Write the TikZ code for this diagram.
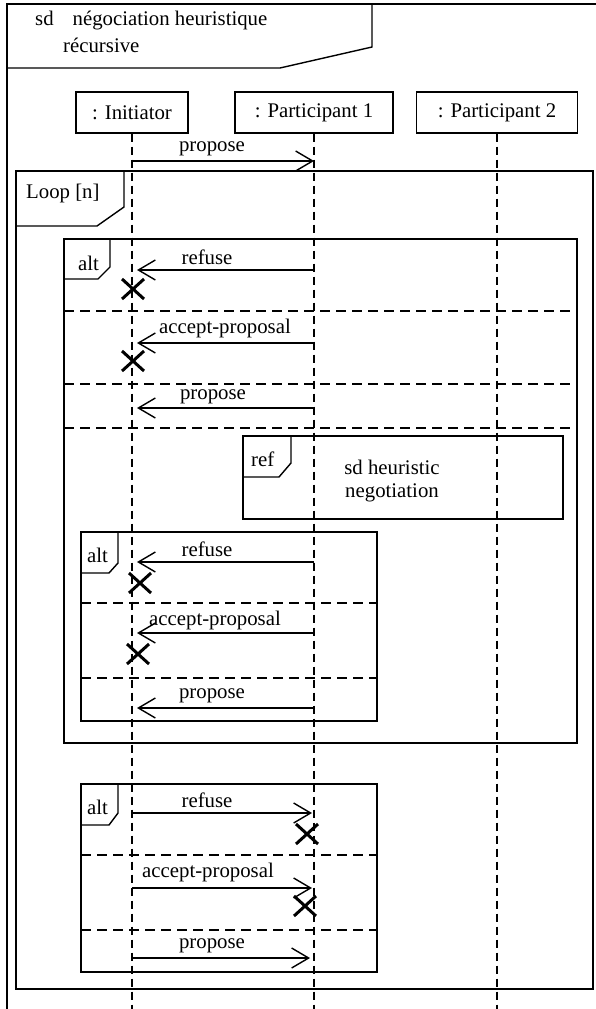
\documentclass[tikz,border=0pt]{standalone}
\usepackage{fontspec}
\setmainfont{Liberation Serif}
\usetikzlibrary{arrows.meta}
\usetikzlibrary{positioning}
\tikzset{
    actor/.style={
           rectangle,
           draw=black, line width=1.4pt,
           minimum height=41pt,
           inner sep=2pt,
           text centered,
           },
    lifeline/.style={line width=1.3pt, dash pattern=on 8pt off 5pt},
    frame/.style={line width=1.4pt},
    sep/.style={line width=1.3pt, dash pattern=on 10pt off 6pt},
    msg/.style={->, line width=1.4pt},
    back/.style={msg, shorten >=5pt},
    tag/.style={anchor=west, inner sep=0pt},
    xmark/.pic={\draw[line width=3pt] (-11,-10) -- (11,10) (-11,10) -- (11,-10);},
}

\begin{document}
\begin{tikzpicture}[x=1pt,y=-1pt,>={Straight Barb[length=17pt,width=20pt]},
    font=\fontsize{20.8}{23}\selectfont]

    \useasboundingbox (0,0) rectangle (595,1009);

    % outer diagram frame
    \draw[frame] (7,1012) -- (7,4) -- (600,4);
    \draw[frame] (7,68) -- (280,68) -- (372,47) -- (372,4);
    \node[tag] (title) at (35,21) {sd\hspace{19pt}négociation heuristique};
    \node[tag] (title2) at (63,45) {récursive};

    % lifelines
    \node[actor,minimum width=112pt] at (132,112.5)
        (I) {: Initiator};
    \node[actor,minimum width=158pt,right of=I,node distance=182pt]
        (P1) {: Participant 1};
    \node[actor,minimum width=161pt,right of=P1,node distance=183pt]
        (P2) {: Participant 2};

    \draw[lifeline] (I) -- (I |- 0,1012);
    \draw[lifeline] (P1) -- (P1 |- 0,1012);
    \draw[lifeline] (P2) -- (P2 |- 0,1012);

    \draw[msg] (I |- 0,161) -- (P1 |- 0,161);
    \node (m0) at (212,149) {propose};

    % loop
    \draw[frame] (16,171) rectangle (593,989);
    \draw[frame] (16,226) -- (97,226) -- (124,207) -- (124,171);
    \node[tag] (loop) at (26,193) {Loop [n]};

    % first alt
    \draw[frame] (64,239) rectangle (577,743);
    \draw[frame] (64,279) -- (98,279) -- (110,267) -- (110,239);
    \node[tag] (alt1) at (78,263) {alt};
    \draw[back] (P1 |- 0,270) -- (I |- 0,270);
    \node (m1) at (207,257) {refuse};
    \pic at (133,289) {xmark};
    \draw[sep] (64,311) -- (577,311);
    \draw[back] (P1 |- 0,343) -- (I |- 0,343);
    \node (m2) at (225,328) {accept-proposal};
    \pic at (133,361) {xmark};
    \draw[sep] (64,384) -- (577,384);
    \draw[back] (P1 |- 0,408) -- (I |- 0,408);
    \node (m3) at (213,397) {propose};
    \draw[sep] (64,428) -- (577,428);

    % ref
    \draw[frame] (243,436) rectangle (563,519);
    \draw[frame] (243,477) -- (279,477) -- (291,463) -- (291,436);
    \node[tag] (ref) at (251,459) {ref};
    \node[align=center] (refbody) at (392,481) {sd heuristic\\ negotiation};

    % nested alt
    \draw[frame] (81,532) rectangle (377,721);
    \draw[frame] (81,573) -- (109,573) -- (118,563) -- (118,532);
    \node[tag] (alt2) at (87,555) {alt};
    \draw[back] (P1 |- 0,562) -- (I |- 0,562);
    \node (m4) at (207,549) {refuse};
    \pic at (140,583) {xmark};
    \draw[sep] (81,603) -- (377,603);
    \draw[back] (P1 |- 0,633) -- (I |- 0,633);
    \node (m5) at (215,620) {accept-proposal};
    \pic at (138,654) {xmark};
    \draw[sep] (81,678) -- (377,678);
    \draw[back] (P1 |- 0,708) -- (I |- 0,708);
    \node (m6) at (212,696) {propose};

    % last alt
    \draw[frame] (81,784) rectangle (377,972);
    \draw[frame] (81,825) -- (109,825) -- (118,813) -- (118,784);
    \node[tag] (alt3) at (87,807) {alt};
    \draw[msg] (I |- 0,813) -- ([xshift=-2pt]P1 |- 0,813);
    \node (m7) at (207,800) {refuse};
    \pic at (307,834) {xmark};
    \draw[sep] (81,855) -- (377,855);
    \draw[msg] (I |- 0,888) -- ([xshift=-2pt]P1 |- 0,888);
    \node (m8) at (208,872) {accept-proposal};
    \pic at (305,906) {xmark};
    \draw[sep] (81,930) -- (377,930);
    \draw[msg] (I |- 0,958) -- ([xshift=-4pt]P1 |- 0,958);
    \node (m9) at (212,946) {propose};

\end{tikzpicture}
\end{document}
